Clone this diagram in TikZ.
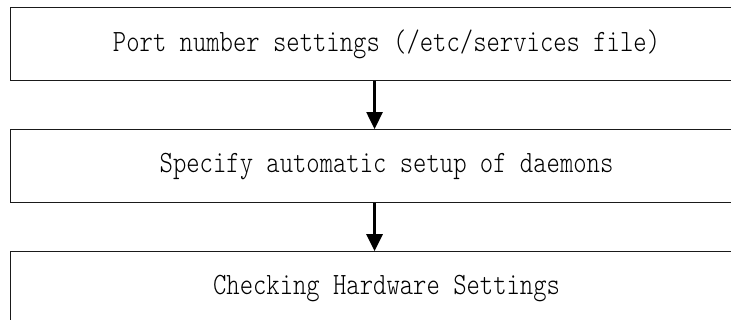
\documentclass[tikz,border=0pt]{standalone}
\usepackage{fontspec}
\usetikzlibrary{positioning,arrows.meta}
\newfontfamily\boxfont{lmmonolt10-regular}[Extension=.otf,FakeStretch=0.82]
\definecolor{ink}{HTML}{000000}
\definecolor{frame}{HTML}{1A1A1A}

\begin{document}
\begin{tikzpicture}[x=1pt,y=1pt,
    stepbox/.style={draw=frame,line width=1.1pt,minimum width=752pt,
      minimum height=73pt,inner sep=0pt,
      font=\boxfont\fontsize{31}{36}\selectfont},
    flow/.style={draw=ink,line width=2.6pt,-{Triangle[width=16pt,length=17pt]}},
    node distance=48pt]
    \useasboundingbox (0,0) rectangle (731,-320);
    \clip (0,0) rectangle (731,-320);

    \node[stepbox,anchor=north west] (ports) at (10,-7)
      {Port number settings (/etc/services file)};
    \node[stepbox,below=of ports] (daemons) {Specify automatic setup of daemons};
    \node[stepbox,below=of daemons] (hardware) {Checking Hardware Settings};

    % arrows sit a little left of the box centres
    \draw[flow] ([xshift=-12pt]ports.south) -- ([xshift=-12pt]daemons.north);
    \draw[flow] ([xshift=-12pt]daemons.south) -- ([xshift=-12pt]hardware.north);
  \end{tikzpicture}
\end{document}
